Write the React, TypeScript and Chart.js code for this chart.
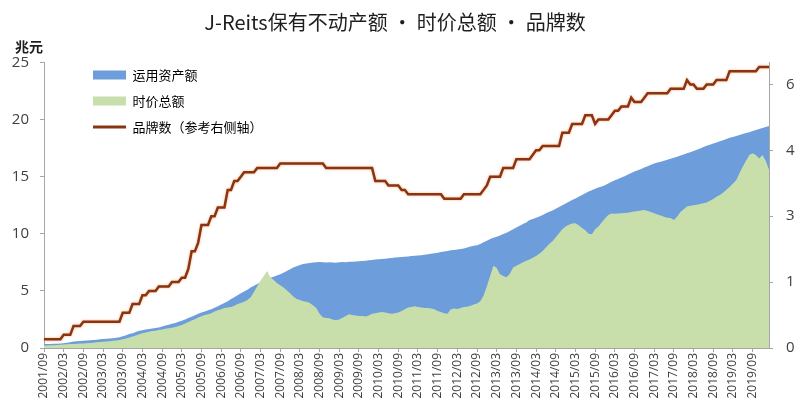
import React, { useEffect, useRef } from 'react';
import { Chart, registerables } from 'chart.js';

Chart.register(...registerables);

// ---- categories: monthly, 2001/09 .. 2020/02 ----
const months: string[] = [];
for (let i = 0; i < 222; i++) {
  const k = 8 + i;
  const y = 2001 + Math.floor(k / 12);
  const m = (k % 12) + 1;
  months.push(`${y}/${m < 10 ? '0' + m : m}`);
}

// 运用资产额 (兆元)
const assets: number[] = [
  0.35, 0.35, 0.36, 0.38, 0.38, 0.40,
  0.42, 0.45, 0.50, 0.58, 0.60, 0.62,
  0.64, 0.66, 0.68, 0.70, 0.72, 0.76,
  0.78, 0.80, 0.84, 0.86, 0.90, 0.94,
  1.02, 1.12, 1.22, 1.30, 1.40, 1.50,
  1.55, 1.62, 1.66, 1.70, 1.76, 1.80,
  1.88, 1.96, 2.04, 2.12, 2.20, 2.30,
  2.38, 2.50, 2.62, 2.74, 2.86, 3.00,
  3.10, 3.20, 3.30, 3.40, 3.52, 3.66,
  3.80, 3.95, 4.10, 4.30, 4.45, 4.62,
  4.80, 4.95, 5.10, 5.30, 5.45, 5.60,
  5.75, 5.90, 6.05, 6.15, 6.25, 6.35,
  6.45, 6.60, 6.75, 6.90, 7.05, 7.15,
  7.27, 7.35, 7.40, 7.45, 7.48, 7.50,
  7.52, 7.50, 7.48, 7.50, 7.48, 7.47,
  7.50, 7.52, 7.50, 7.55, 7.55, 7.58,
  7.60, 7.62, 7.65, 7.68, 7.70, 7.75,
  7.78, 7.80, 7.82, 7.85, 7.88, 7.92,
  7.95, 7.97, 8.00, 8.02, 8.05, 8.08,
  8.10, 8.13, 8.16, 8.20, 8.25, 8.30,
  8.35, 8.40, 8.45, 8.50, 8.55, 8.58,
  8.62, 8.66, 8.72, 8.80, 8.88, 8.95,
  9.00, 9.10, 9.25, 9.40, 9.55, 9.65,
  9.75, 9.85, 9.98, 10.10, 10.25, 10.40,
  10.55, 10.70, 10.85, 11.00, 11.20, 11.30,
  11.40, 11.52, 11.65, 11.80, 11.92, 12.05,
  12.20, 12.35, 12.50, 12.65, 12.80, 12.95,
  13.10, 13.25, 13.40, 13.55, 13.70, 13.82,
  13.95, 14.05, 14.15, 14.25, 14.40, 14.55,
  14.68, 14.80, 14.92, 15.05, 15.20, 15.32,
  15.45, 15.57, 15.68, 15.80, 15.92, 16.04,
  16.15, 16.24, 16.32, 16.40, 16.48, 16.57,
  16.65, 16.75, 16.85, 16.95, 17.05, 17.15,
  17.25, 17.37, 17.48, 17.60, 17.70, 17.80,
  17.90, 18.00, 18.10, 18.20, 18.30, 18.40,
  18.48, 18.56, 18.65, 18.74, 18.82, 18.90,
  19.00, 19.08, 19.17, 19.26, 19.36, 19.45,
];

// 时价总额 (兆元)
const marketCap: number[] = [
  0.22, 0.22, 0.24, 0.25, 0.26, 0.28,
  0.30, 0.32, 0.34, 0.36, 0.38, 0.40,
  0.40, 0.42, 0.44, 0.46, 0.50, 0.53,
  0.55, 0.58, 0.60, 0.63, 0.66, 0.70,
  0.76, 0.84, 0.92, 1.00, 1.10, 1.20,
  1.30, 1.36, 1.42, 1.48, 1.52, 1.58,
  1.62, 1.68, 1.74, 1.78, 1.84, 1.92,
  2.02, 2.14, 2.28, 2.40, 2.52, 2.66,
  2.78, 2.88, 2.96, 3.04, 3.20, 3.30,
  3.40, 3.50, 3.55, 3.60, 3.70, 3.85,
  3.95, 4.05, 4.20, 4.45, 4.90, 5.40,
  5.90, 6.30, 6.75, 6.20, 5.95, 5.70,
  5.50, 5.30, 5.05, 4.80, 4.50, 4.30,
  4.20, 4.10, 4.05, 3.95, 3.75, 3.50,
  3.00, 2.70, 2.62, 2.60, 2.50, 2.42,
  2.50, 2.65, 2.80, 2.95, 2.90, 2.85,
  2.80, 2.80, 2.75, 2.85, 3.00, 3.05,
  3.10, 3.15, 3.10, 3.05, 3.00, 3.05,
  3.10, 3.25, 3.40, 3.55, 3.60, 3.65,
  3.60, 3.55, 3.50, 3.50, 3.45, 3.40,
  3.25, 3.15, 3.05, 3.00, 3.40, 3.45,
  3.42, 3.50, 3.58, 3.62, 3.70, 3.80,
  3.90, 4.10, 4.60, 5.40, 6.30, 7.20,
  7.00, 6.45, 6.30, 6.20, 6.50, 7.05,
  7.20, 7.35, 7.50, 7.65, 7.75, 7.90,
  8.05, 8.25, 8.50, 8.80, 9.10, 9.35,
  9.70, 10.05, 10.40, 10.65, 10.80, 10.90,
  10.92, 10.75, 10.50, 10.30, 10.00, 9.95,
  10.40, 10.65, 11.00, 11.35, 11.65, 11.78,
  11.75, 11.78, 11.80, 11.82, 11.85, 11.90,
  11.95, 12.00, 12.05, 12.08, 12.00, 11.90,
  11.80, 11.70, 11.60, 11.50, 11.40, 11.38,
  11.20, 11.50, 11.90, 12.15, 12.40, 12.45,
  12.50, 12.55, 12.60, 12.67, 12.75, 12.90,
  13.05, 13.25, 13.40, 13.60, 13.85, 14.10,
  14.40, 14.70, 15.30, 15.90, 16.40, 16.90,
  17.05, 16.90, 16.60, 16.90, 16.40, 15.60,
];

// 品牌数 (右侧轴)
const brands: number[] = [
  2, 2, 2, 2, 2, 2,
  3, 3, 3, 5, 5, 5,
  6, 6, 6, 6, 6, 6,
  6, 6, 6, 6, 6, 6,
  8, 8, 8, 10, 10, 10,
  12, 12, 13, 13, 13, 14,
  14, 14, 14, 15, 15, 15,
  16, 16, 18, 22, 22, 24,
  28, 28, 28, 30, 30, 32,
  32, 32, 36, 36, 38, 38,
  39, 40, 40, 40, 40, 41,
  41, 41, 41, 41, 41, 41,
  42, 42, 42, 42, 42, 42,
  42, 42, 42, 42, 42, 42,
  42, 42, 41, 41, 41, 41,
  41, 41, 41, 41, 41, 41,
  41, 41, 41, 41, 41, 38,
  38, 38, 38, 37, 37, 37,
  37, 36, 36, 35, 35, 35,
  35, 35, 35, 35, 35, 35,
  35, 35, 34, 34, 34, 34,
  34, 34, 35, 35, 35, 35,
  35, 35, 36, 37, 39, 39,
  39, 39, 41, 41, 41, 41,
  43, 43, 43, 43, 43, 44,
  45, 45, 46, 46, 46, 46,
  46, 46, 49, 49, 49, 51,
  51, 51, 51, 53, 53, 53,
  51, 52, 52, 52, 52, 53,
  54, 54, 55, 55, 55, 57,
  56, 56, 56, 57, 58, 58,
  58, 58, 58, 58, 58, 59,
  59, 59, 59, 59, 61, 60,
  60, 59, 59, 59, 60, 60,
  60, 61, 61, 61, 61, 63,
  63, 63, 63, 63, 63, 63,
  63, 63, 64, 64, 64, 64,
];

const leftTicks: number[] = [0, 5, 10, 15, 20, 25];
const rightTicks: number[] = [0, 15, 30, 45, 60];

const TITLE = 'J-Reits保有不动产额 · 时价总额 · 品牌数';
const UNIT = '兆元';
const LEGEND_ASSETS = '运用资产额';
const LEGEND_CAP = '时价总额';
const LEGEND_BRANDS = '品牌数（参考右侧轴）';

const BLUE = '#6d9dda';
const GREEN = '#c8dfac';
const BROWN = '#8a3412';
const AXIS = '#a6a6a6';
const TICK = '#404040';
const CJK = "'Noto Sans CJK SC', 'Noto Sans', sans-serif";
const NUM = "'Open Sans', 'Noto Sans', sans-serif";

const customPlugin = {
  id: 'customLayout',
  afterLayout(chart: any) {
    const lg = chart.legend;
    if (!lg) return;
    const ca = chart.chartArea;
    lg.left = ca.left + 36;
    lg.top = ca.top - 7;
    lg.right = ca.right;
    lg.bottom = ca.bottom;
  },
  beforeDatasetDraw(chart: any, args: any) {
    if (args.index === 0) {
      const ctx = chart.ctx;
      ctx.save();
      ctx.shadowColor = 'rgba(238,150,90,0.75)';
      ctx.shadowBlur = 2.5;
    }
  },
  afterDatasetDraw(chart: any, args: any) {
    if (args.index === 0) chart.ctx.restore();
  },
};

export default function App() {
  const ref = useRef<HTMLCanvasElement>(null);

  useEffect(() => {
    if (!ref.current) return;
    const chart = new Chart(ref.current, {
      type: 'line',
      data: {
        labels: months,
        datasets: [
          {
            label: LEGEND_BRANDS,
            data: brands,
            yAxisID: 'y1',
            borderColor: BROWN,
            borderWidth: 2.5,
            pointRadius: 0,
            fill: false,
            tension: 0,
          },
          {
            label: LEGEND_CAP,
            data: marketCap,
            yAxisID: 'y',
            backgroundColor: GREEN,
            borderColor: 'rgba(0,0,0,0)',
            borderWidth: 0,
            pointRadius: 0,
            fill: 'origin',
            tension: 0,
          },
          {
            label: LEGEND_ASSETS,
            data: assets,
            yAxisID: 'y',
            backgroundColor: BLUE,
            borderColor: 'rgba(0,0,0,0)',
            borderWidth: 0,
            pointRadius: 0,
            fill: 'origin',
            tension: 0,
          },
        ],
      },
      options: {
        responsive: false,
        animation: false,
        devicePixelRatio: 1,
        layout: { padding: { left: -5, right: 25, top: 0, bottom: 0 } },
        plugins: {
          title: {
            display: true,
            text: TITLE,
            color: '#1e1e1e',
            font: { family: CJK, size: 20, weight: 'normal' },
            padding: { top: 10, bottom: 28.5 },
          },
          legend: {
            position: 'chartArea',
            align: 'start',
            labels: {
              usePointStyle: true,
              pointStyleWidth: 33,
              boxHeight: 9,
              padding: 13,
              color: '#1a1a1a',
              font: { family: CJK, size: 13 },
              generateLabels: () => [
                { text: LEGEND_ASSETS, fillStyle: BLUE, strokeStyle: BLUE, lineWidth: 0, pointStyle: 'rect', hidden: false, datasetIndex: 2 },
                { text: LEGEND_CAP, fillStyle: GREEN, strokeStyle: GREEN, lineWidth: 0, pointStyle: 'rect', hidden: false, datasetIndex: 1 },
                { text: LEGEND_BRANDS, fillStyle: BROWN, strokeStyle: BROWN, lineWidth: 3, pointStyle: 'line', hidden: false, datasetIndex: 0 },
              ],
            },
          },
          tooltip: { enabled: false },
        },
        scales: {
          x: {
            type: 'category',
            offset: false,
            grid: { display: true, drawOnChartArea: false, drawTicks: true, tickLength: 4, color: AXIS },
            border: { display: true, color: AXIS, width: 1 },
            ticks: {
              autoSkip: false,
              minRotation: 90,
              maxRotation: 90,
              padding: 1,
              color: TICK,
              font: { family: NUM, size: 12 },
            },
            afterBuildTicks: (s: any) => {
              s.ticks = s.ticks.filter((t: any) => t.value % 6 === 0);
            },
            afterFit: (s: any) => {
              s.height = 52;
            },
          },
          y: {
            position: 'left',
            min: 0,
            max: 25,
            grid: { display: true, drawOnChartArea: false, drawTicks: true, tickLength: 4, color: AXIS },
            border: { display: true, color: AXIS, width: 1 },
            ticks: { padding: 11, color: TICK, font: { family: NUM, size: 15 } },
            afterBuildTicks: (s: any) => {
              s.ticks = leftTicks.map((v) => ({ value: v }));
            },
            afterFit: (s: any) => {
              s.width = 49;
            },
          },
          y1: {
            position: 'right',
            min: 0,
            max: 65,
            bounds: 'data',
            grid: { display: true, drawOnChartArea: false, drawTicks: true, tickLength: 4, color: AXIS },
            border: { display: true, color: AXIS, width: 1 },
            ticks: { padding: 13, color: TICK, font: { family: NUM, size: 15 } },
            afterBuildTicks: (s: any) => {
              s.ticks = rightTicks.map((v) => ({ value: v }));
            },
            afterFit: (s: any) => {
              s.width = 26;
            },
          },
        },
      },
      plugins: [customPlugin],
    } as any);
    return () => chart.destroy();
  }, []);

  return (
    <div
      style={{
        position: 'fixed',
        left: 0,
        top: 0,
        width: 795,
        height: 400,
        overflow: 'hidden',
        background: '#ffffff',
      }}
    >
      <canvas ref={ref} width={820} height={400} style={{ display: 'block', width: 820, height: 400 }} />
      <div
        style={{
          position: 'absolute',
          left: 15,
          top: 39,
          fontFamily: CJK,
          fontSize: 14,
          lineHeight: '14px',
          fontWeight: 'bold',
          color: '#1e1e1e',
          whiteSpace: 'nowrap',
        }}
      >
        {UNIT}
      </div>
    </div>
  );
}
